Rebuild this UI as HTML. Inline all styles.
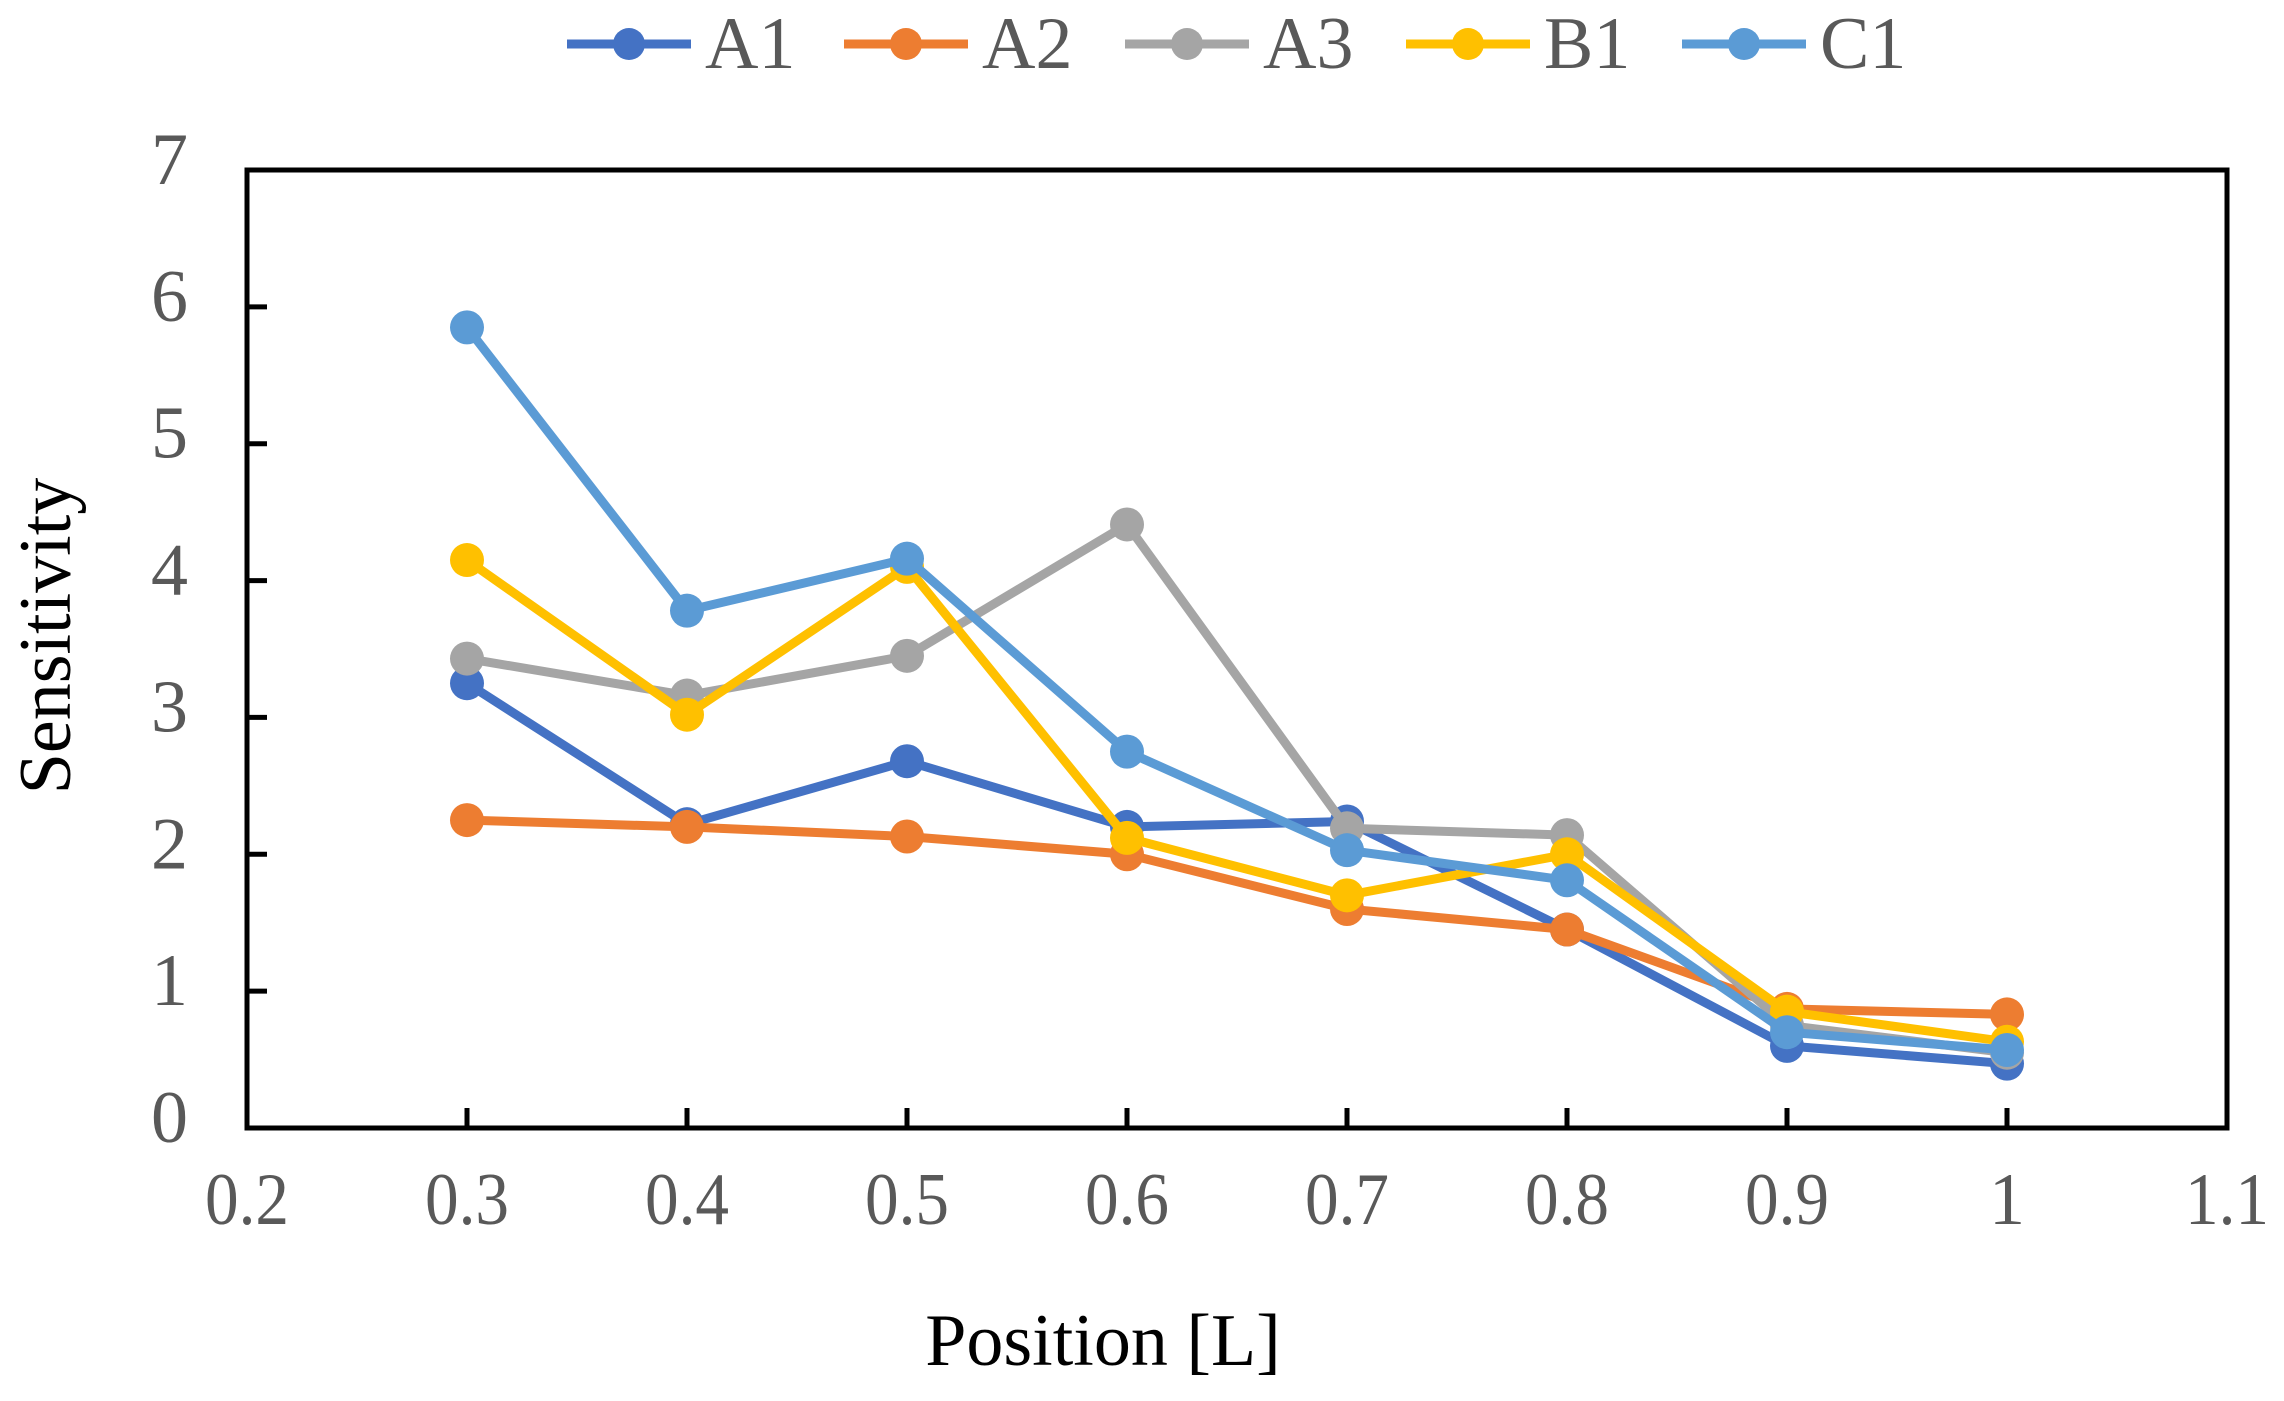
<!DOCTYPE html>
<html><head><meta charset="utf-8"><style>
html,body{margin:0;padding:0;background:#fff;}
svg{display:block;font-family:"Liberation Serif",serif;}
</style></head><body>
<svg id="chart" width="2284" height="1401" viewBox="0 0 2284 1401" xmlns="http://www.w3.org/2000/svg">
<rect x="0" y="0" width="2284" height="1401" fill="#fff"/>
<g id="plot"></g>
<g id="legend"></g>
<text x="70" y="636" transform="rotate(-90 70 636)" text-anchor="middle" font-size="74" fill="#000">Sensitivity</text>
<text x="1103" y="1365" text-anchor="middle" font-size="74" fill="#000">Position [L]</text>
</svg>
<script>
const categories = [0.3, 0.4, 0.5, 0.6, 0.7, 0.8, 0.9, 1.0];
const seriesNames = ["A1", "A2", "A3", "B1", "C1"];
const seriesColors = ["#4472C4", "#ED7D31", "#A5A5A5", "#FFC000", "#5B9BD5"];
const valuesA1 = [3.25, 2.22, 2.68, 2.2, 2.24, 1.45, 0.6, 0.47];
const valuesA2 = [2.25, 2.2, 2.13, 2.0, 1.6, 1.45, 0.87, 0.83];
const valuesA3 = [3.43, 3.16, 3.45, 4.41, 2.19, 2.14, 0.75, 0.55];
const valuesB1 = [4.15, 3.02, 4.1, 2.12, 1.7, 2.0, 0.85, 0.63];
const valuesC1 = [5.85, 3.78, 4.16, 2.75, 2.03, 1.81, 0.7, 0.57];
const xTickLabels = ["0.2","0.3","0.4","0.5","0.6","0.7","0.8","0.9","1","1.1"];
const yTickLabels = ["0","1","2","3","4","5","6","7"];

const NS = "http://www.w3.org/2000/svg";
const L = 247, R = 2227, T = 170, B = 1128;
const xMin = 0.2, xMax = 1.1, yMin = 0, yMax = 7;
function xs(v){ return L + (v - xMin) / (xMax - xMin) * (R - L); }
function ys(v){ return B - (v - yMin) / (yMax - yMin) * (B - T); }
function mk(tag, attrs, parent){
  const e = document.createElementNS(NS, tag);
  for (const k in attrs) e.setAttribute(k, attrs[k]);
  parent.appendChild(e); return e;
}
const plot = document.getElementById('plot');
const legend = document.getElementById('legend');

// frame
const frame = mk('rect', {x:L, y:T, width:R-L, height:B-T, fill:'none', stroke:'#000', 'stroke-width':5}, plot);



// y ticks + labels
yTickLabels.forEach(function(lab){
  const v = parseFloat(lab);
  const y = ys(v);
  const t = mk('line', {x1:L, x2:L+20, y1:y, y2:y, stroke:'#000', 'stroke-width':5}, plot);
  
  
  const tx = mk('text', {x:188, y:y+14, 'text-anchor':'end', 'font-size':74, fill:'#595959'}, plot);
  tx.textContent = lab;
  
  
});
// x ticks + labels
xTickLabels.forEach(function(lab){
  const v = parseFloat(lab);
  const x = xs(v);
  const t = mk('line', {x1:x, x2:x, y1:B, y2:B-20, stroke:'#000', 'stroke-width':5}, plot);
  
  
  const tx = mk('text', {x:x, y:1224, 'text-anchor':'middle', 'font-size':74, fill:'#595959', textLength: lab.length===1?36:(lab.length*28), lengthAdjust:'spacingAndGlyphs'}, plot);
  tx.textContent = lab;
  
  
});

const allValues = [valuesA1, valuesA2, valuesA3, valuesB1, valuesC1];
allValues.forEach(function(vals, si){
  const g = mk('g', {}, plot);
  
  
  const pts = vals.map(function(v, i){ return xs(categories[i]) + ',' + ys(v); }).join(' ');
  const pl = mk('polyline', {points:pts, fill:'none', stroke:seriesColors[si], 'stroke-width':9, 'stroke-linejoin':'round'}, g);
  
  
  vals.forEach(function(v, i){
    const c = mk('circle', {cx:xs(categories[i]), cy:ys(v), r:17, fill:seriesColors[si]}, g);
    
    
  });
});

// legend
const legendCenters = [629, 906, 1187, 1468, 1744];
seriesNames.forEach(function(n, si){
  const cx = legendCenters[si];
  const g = mk('g', {}, legend);
  
  
  mk('line', {x1:cx-62, x2:cx+62, y1:44, y2:44, stroke:seriesColors[si], 'stroke-width':9}, g);
  mk('circle', {cx:cx, cy:44, r:16, fill:seriesColors[si]}, g);
  const t = mk('text', {x:cx+76, y:68, 'font-size':74, fill:'#595959'}, g);
  t.textContent = n;
});
</script>
</body></html>
